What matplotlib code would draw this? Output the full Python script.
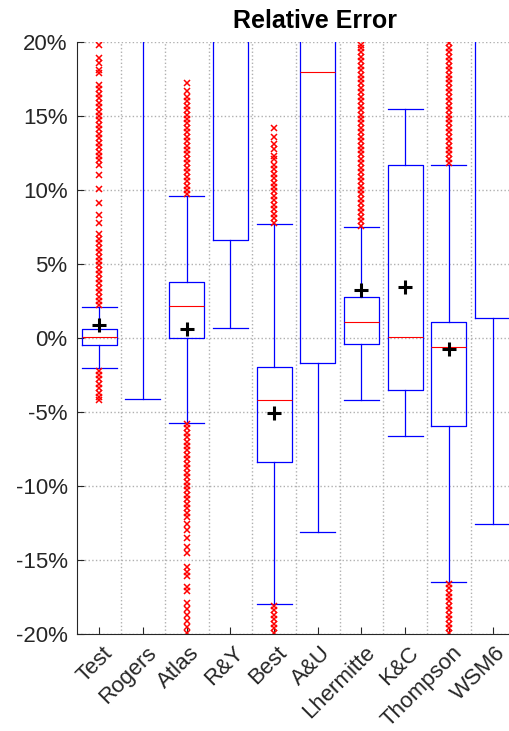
import matplotlib
matplotlib.use("Agg")
import matplotlib.pyplot as plt
import matplotlib.transforms as mtrans

plt.rcParams['font.family'] = ['Liberation Sans', 'DejaVu Sans']

# box statistics, in percent (values above 20% are off-chart guesses)
names = ['Test', 'Rogers', 'Atlas', 'R&Y', 'Best', 'A&U', 'Lhermitte', 'K&C', 'Thompson', 'WSM6']
q1 = [-0.49, 25.0, -0.02, 6.62, -8.4, -1.71, -0.43, -3.49, -5.95, 1.33]
med = [0.09, 35.0, 2.16, 25.0, -4.19, 17.95, 1.06, 0.07, -0.63, 25.0]
q3 = [0.59, 50.0, 3.8, 40.0, -1.98, 30.0, 2.75, 11.69, 1.1, 40.0]
whislo = [-2.05, -4.1, -5.72, 0.65, -18.0, -13.1, -4.19, -6.6, -16.5, -12.6]
whishi = [2.1, 80.0, 9.6, 60.0, 7.68, 50.0, 7.52, 15.5, 11.7, 60.0]
means = [0.88, None, 0.59, None, -5.05, None, 3.24, 3.47, -0.76, None]

# outliers (percent)
fl_test = [2.2, 2.5, 2.8, 3.1, 3.4, 3.7, 4.0, 4.3, 4.6, 4.9, 5.2, 5.5, 5.8, 6.1, 6.4, 6.7, 7.0,
           7.8, 8.3, 9.1, 10.1, 11.0,
           11.7, 12.0, 12.3, 12.6, 12.9, 13.2, 13.5, 13.8, 14.1, 14.4, 14.7, 15.0, 15.3, 15.6,
           15.9, 16.2, 16.5, 16.8, 17.1, 17.9, 18.1, 18.6, 18.9, 19.8,
           -2.2, -2.5, -2.8, -3.1, -3.4, -3.7, -4.0, -4.2]
fl_atlas = [9.7, 10.0, 10.3, 10.6, 10.9, 11.2, 11.5, 11.8, 12.1, 12.4, 12.7, 13.0, 13.3, 13.6,
            13.9, 14.2, 14.5, 14.8, 15.1, 15.4, 15.7, 16.0, 16.3, 16.7, 17.2,
            -5.8, -6.1, -6.4, -6.7, -7.0, -7.3, -7.6, -7.9, -8.2, -8.5, -8.8, -9.1, -9.4, -9.7,
            -10.0, -10.3, -10.6, -10.9, -11.2, -11.5, -11.8, -12.1,
            -12.6, -13.0, -13.5, -14.1, -14.5, -15.5, -15.8, -16.1, -16.8, -17.1,
            -17.9, -18.3, -18.7, -19.1, -19.5, -19.9]
fl_best = [7.8, 8.1, 8.4, 8.7, 9.0, 9.3, 9.6, 9.9, 10.2, 10.5, 10.8, 11.1, 11.4, 11.7,
           12.1, 12.3, 12.8, 13.1, 13.6, 14.2,
           -18.1, -18.4, -18.7, -19.0, -19.3, -19.6, -19.9]
fl_lher = [7.6, 7.9, 8.2, 8.5, 8.8, 9.1, 9.4, 9.7, 10.0, 10.3, 10.6, 10.9, 11.2, 11.5, 11.8,
           12.1, 12.4, 12.7, 13.0, 13.3, 13.6, 13.9, 14.2, 14.5, 14.8, 15.1, 15.4, 15.7, 16.0,
           16.3, 16.6, 16.9, 17.2, 17.5, 17.8, 18.1, 18.4, 18.7, 19.0, 19.3, 19.6, 19.8]
fl_thom = [11.8, 12.1, 12.4, 12.7, 13.0, 13.3, 13.6, 13.9, 14.2, 14.5, 14.8, 15.1, 15.4, 15.7,
           16.0, 16.3, 16.6, 16.9, 17.2, 17.5, 17.8, 18.1, 18.4, 18.7, 19.0, 19.3, 19.6, 19.9,
           -16.6, -16.9, -17.2, -17.5, -17.8, -18.1, -18.4, -18.7, -19.0, -19.3, -19.6, -19.9]
fliers = [fl_test, [], fl_atlas, [], fl_best, [], fl_lher, [], fl_thom, []]

ytick_vals = [-20, -15, -10, -5, 0, 5, 10, 15, 20]
ytick_labels = ['-20%', '-15%', '-10%', '-5%', '0%', '5%', '10%', '15%', '20%']

fig = plt.figure(figsize=(5.09, 7.31), dpi=100)
ax = fig.add_axes([77.4 / 509, 97 / 731, 437 / 509, 592 / 731])

stats = []
for i in range(len(names)):
    stats.append(dict(label=names[i], q1=q1[i], med=med[i], q3=q3[i],
                      whislo=whislo[i], whishi=whishi[i], fliers=fliers[i]))

pos = list(range(1, len(names) + 1))
blue = '#0000ff'
ax.bxp(stats, positions=pos, widths=0.8, capwidths=0.8, showfliers=True,
       boxprops=dict(color=blue, linewidth=0.9),
       whiskerprops=dict(color=blue, linewidth=0.9),
       capprops=dict(color=blue, linewidth=0.9),
       medianprops=dict(color='red', linewidth=0.8),
       flierprops=dict(marker='x', markeredgecolor='red', markersize=5,
                       markeredgewidth=1.1, linestyle='none'))

mx = [p for p, m in zip(pos, means) if m is not None]
my = [m for m in means if m is not None]
ax.plot(mx, my, '+', color='black', markersize=10, markeredgewidth=2.2, zorder=5)

ax.set_xlim(0.5, 10.5)
ax.set_ylim(-20, 20)
ax.set_yticks(ytick_vals)
ax.set_yticklabels(ytick_labels)
ax.set_xticks(pos)
ax.set_xticklabels(names, rotation=45, ha='right', va='center', rotation_mode='anchor')
ax.set_xticks([p + 0.5 for p in pos[:-1]], minor=True)

ax.tick_params(which='major', direction='in', length=5, width=0.8, colors='#262626',
               labelsize=16)
ax.tick_params(axis='y', pad=7)
ax.tick_params(axis='x', pad=10)
ax.tick_params(which='minor', length=0)

ax.grid(which='major', axis='y', linestyle=':', color='#b0b0b0', linewidth=1)
ax.grid(which='minor', axis='x', linestyle=':', color='#b0b0b0', linewidth=1)
ax.set_axisbelow(True)

for s in ['top', 'right']:
    ax.spines[s].set_visible(False)
for s in ['left', 'bottom']:
    ax.spines[s].set_color('#262626')
    ax.spines[s].set_linewidth(0.8)

offset = mtrans.ScaledTranslation(10 / 100, -2 / 100, fig.dpi_scale_trans)
for lab in ax.get_xticklabels():
    lab.set_transform(lab.get_transform() + offset)

fig.text(315 / 509, 1 - 21 / 731, 'Relative Error', ha='center', va='center',
         fontsize=18, fontweight='bold')

fig.savefig('out.png', dpi=100)
